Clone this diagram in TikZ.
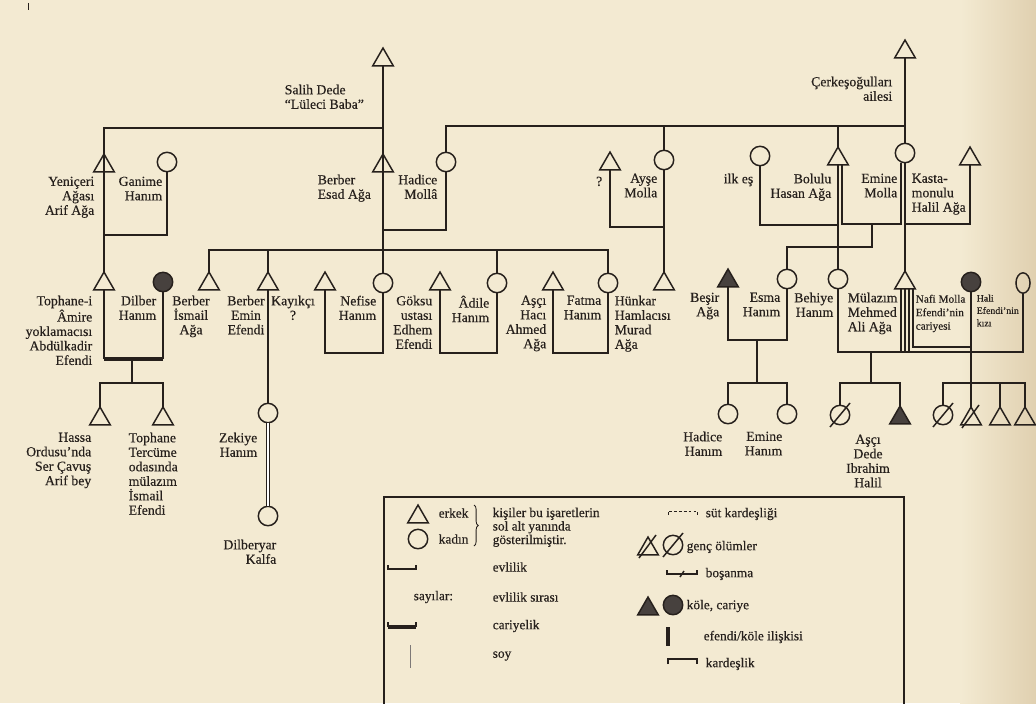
\documentclass[tikz,border=0pt]{standalone}
\usepackage{fontspec}
\setmainfont{Liberation Serif}[FakeBold=0.35]
\usetikzlibrary{shapes.geometric,calc,decorations.pathreplacing}
\definecolor{paper}{RGB}{243,234,210}
\definecolor{paperdark}{RGB}{224,208,176}
\definecolor{ink}{RGB}{38,32,28}

\begin{document}
\begin{tikzpicture}[x=0.025cm,y=-0.025cm,color=ink,line width=1.05pt,
  erkek/.style={regular polygon,regular polygon sides=3,draw,minimum size=17pt,inner sep=0pt,outer sep=0pt},
  kadin/.style={circle,draw,minimum size=13.8pt,inner sep=0pt,outer sep=0pt},
  kole/.style={fill=ink!85},
  lbl/.style={font=\fontsize{9.8}{10.3}\selectfont,inner sep=0pt,anchor=north east,align=right},
  lbll/.style={lbl,anchor=north west,align=left},
  lblc/.style={lbl,anchor=north,align=center},
  kucuk/.style={font=\fontsize{8}{9.6}\selectfont},
  leg/.style={font=\fontsize{9.5}{10}\selectfont,inner sep=0pt,anchor=west},
  cariyelik/.style={line width=2.3pt},
  efendi/.style={double,double distance=1.4pt,line width=0.8pt}]

\fill[paper] (0,0) rectangle (1036,703);
\shade[left color=paper,right color=paperdark,draw=none] (960,0) rectangle (1036,703);
\useasboundingbox (0,0) rectangle (1036,703);
\draw[line width=0.6pt] (28,3) -- (28,10);

% ust kusak
\node[erkek] (salih) at (383,60) {};
\node[erkek] (cerkes) at (905,52) {};
\node[lbll] (salih-t) at (284,84) {Salih Dede\\“Lüleci Baba”};
\node[lbl] (cerkes-t) at (893,76) {Çerkeşoğulları\\ailesi};

\node[erkek] (yeniceri) at (104,166) {};
\node[kadin] (ganime) at (167,162) {};
\node[erkek] (esad) at (383,166) {};
\node[kadin] (hadice) at (446,162) {};
\node[erkek] (soru) at (610,164) {};
\node[kadin] (ayse) at (664,160) {};
\node[kadin] (ilkes) at (760,156) {};
\node[erkek] (bolulu) at (838,159) {};
\node[kadin] (emine) at (905,153) {};
\node[erkek] (kasta) at (970,159) {};

\node[lbl] (yeniceri-t) at (95,176) {Yeniçeri\\Ağası\\Arif Ağa};
\node[lbl] (ganime-t) at (163,176) {Ganime\\Hanım};
\node[lbll] (esad-t) at (317,174) {Berber\\Esad Ağa};
\node[lbl] (hadice-t) at (438,174) {Hadice\\Mollâ};
\node[lbl] (soru-t) at (603,176) {?};
\node[lbl] (ayse-t) at (658,173) {Ayşe\\Molla};
\node[lbl] (ilkes-t) at (754,173) {ilk eş};
\node[lbl] (bolulu-t) at (832,173) {Bolulu\\Hasan Ağa};
\node[lbl] (emine-t) at (898,173) {Emine\\Molla};
\node[lbll] (kasta-t) at (911,173) {Kasta-\\monulu\\Halil Ağa};

% orta kusak
\node[erkek] (tophane) at (104,284) {};
\node[kadin,kole] (dilber) at (163,282) {};
\node[erkek] (ismail) at (209,284) {};
\node[erkek] (emin) at (268,284) {};
\node[erkek] (kayikci) at (325,284) {};
\node[kadin] (nefise) at (383,283) {};
\node[erkek] (goksu) at (440,284) {};
\node[kadin] (adile) at (497,283) {};
\node[erkek] (asci) at (553,284) {};
\node[kadin] (fatma) at (608,283) {};
\node[erkek] (hunkar) at (664,284) {};

\node[lbl] (tophane-t) at (93,295) {Tophane-i\\Âmire\\yoklamacısı\\Abdülkadir\\Efendi};
\node[lbl] (dilber-t) at (157,295) {Dilber\\Hanım};
\node[lblc] (ismail-t) at (191,295) {Berber\\İsmail\\Ağa};
\node[lblc] (emin-t) at (246,295) {Berber\\Emin\\Efendi};
\node[lblc] (kayikci-t) at (293,295) {Kayıkçı\\?};
\node[lbl] (nefise-t) at (377,295) {Nefise\\Hanım};
\node[lbl] (goksu-t) at (433,295) {Göksu\\ustası\\Edhem\\Efendi};
\node[lbl] (adile-t) at (490,295) {Âdile\\Hanım};
\node[lbl] (asci-t) at (547,295) {Aşçı\\Hacı\\Ahmed\\Ağa};
\node[lbl] (fatma-t) at (602,295) {Fatma\\Hanım};
\node[lbll] (hunkar-t) at (614,295) {Hünkar\\Hamlacısı\\Murad\\Ağa};

\node[erkek,kole] (besir) at (728,281) {};
\node[kadin] (esma) at (787,279) {};
\node[kadin] (behiye) at (838,279) {};
\node[erkek] (mulazim) at (905,283) {};
\node[kadin,kole] (nafi) at (971,282) {};
\node[ellipse,draw,minimum width=10pt,minimum height=14.5pt,inner sep=0pt,outer sep=0pt] (halikizi) at (1023,283) {};

\node[lbl] (besir-t) at (720,292) {Beşir\\Ağa};
\node[lbl] (esma-t) at (781,292) {Esma\\Hanım};
\node[lbl] (behiye-t) at (834,292) {Behiye\\Hanım};
\node[lbll] (mulazim-t) at (847,292) {Mülazım\\Mehmed\\Ali Ağa};
\node[lbll,kucuk] (nafi-t) at (915,294) {Nafi Molla\\Efendi’nin\\cariyesi};
\node[lbll,font=\fontsize{7}{8.8}\selectfont] (halikizi-t) at (976,294) {Hali\\Efendi’nin\\kızı};

% alt kusak
\node[erkek] (hassa) at (100,419) {};
\node[erkek] (tophane2) at (163,419) {};
\node[kadin] (zekiye) at (268,413) {};
\node[kadin] (dilberyar) at (268,516) {};
\node[kadin] (hadicek) at (728,414) {};
\node[kadin] (eminek) at (787,414) {};
\node[kadin] (olu1) at (840,415) {};
\node[erkek,kole] (ibrahim) at (900,418) {};
\node[kadin] (olu2) at (943,415) {};
\node[erkek] (olu3) at (971,419) {};
\node[erkek] (son1) at (1000,419) {};
\node[erkek] (son2) at (1025,419) {};

\node[lbl] (hassa-t) at (92,432) {Hassa\\Ordusu’nda\\Ser Çavuş\\Arif bey};
\node[lbll] (tophane2-t) at (128,432) {Tophane\\Tercüme\\odasında\\mülazım\\İsmail\\Efendi};
\node[lbl] (zekiye-t) at (258,432) {Zekiye\\Hanım};
\node[lbl] (dilberyar-t) at (277,539) {Dilberyar\\Kalfa};
\node[lbl] (hadicek-t) at (723,431) {Hadice\\Hanım};
\node[lbl] (eminek-t) at (783,431) {Emine\\Hanım};
\node[lblc] (ibrahim-t) at (868,434) {Aşçı\\Dede\\Ibrahim\\Halil};

\draw ($(olu1.center)+(-10,12)$) -- ($(olu1.center)+(10,-12)$);
\draw ($(olu2.center)+(-10,12)$) -- ($(olu2.center)+(10,-12)$);
\draw ($(olu3.center)+(-9,9)$) -- ($(olu3.center)+(8,-14)$);

% baglar
\coordinate (salihbar) at (383,128);
\coordinate (cerkesbar) at (905,126);
\draw (salih.south) -- (nefise.north);
\draw (salihbar) -| (tophane.north);
\draw (ganime.south) |- (tophane.north |- 0,235);
\draw (hadice.south) |- (esad.south |- 0,230);
\draw (ismail.north) |- (fatma.north |- 0,250) -- (fatma.north);
\draw (emin.north) -- (emin.north |- 0,250);
\draw (adile.north) -- (adile.north |- 0,250);

\draw (cerkes.south) -- (emine.north);
\draw (cerkesbar) -| (hadice.north);
\draw (ayse.north) -- (ayse.north |- cerkesbar);
\draw (bolulu.north) -- (bolulu.north |- cerkesbar);
\draw (soru.south) |- (ayse.south |- 0,227);
\draw (ayse.south) -- (hunkar.north);

\draw (ilkes.south) |- (bolulu.south |- 0,225);
\draw (bolulu.south) -- (behiye.north);
\coordinate (bolR) at ($(bolulu.south)+(4,0)$);
\coordinate (emiL) at ($(emine.south)+(-4,0)$);
\draw (bolR) |- (emiL |- 0,224) -- (emiL);
\coordinate (evlBE) at (872,224);
\draw (evlBE) -- ++(0,23) -| (esma.north);
\draw (emine.south) -- (mulazim.north);
\draw (kasta.south) |- (emine.south |- 0,224);

\draw (tophane.south) -- (tophane.south |- 0,359);
\draw (dilber.south) -- (dilber.south |- 0,359);
\draw[cariyelik] (tophane.south |- 0,359) -- (dilber.south |- 0,359);
\coordinate (evlTD) at (132,360);
\draw (evlTD) -- (evlTD |- 0,383);
\draw (hassa.north) |- (tophane2.north |- 0,383) -- (tophane2.north);

\draw (emin.south) -- (zekiye.north);
\draw[efendi] (zekiye.south) -- (dilberyar.north);

\draw (kayikci.south) |- (nefise.south |- 0,353) -- (nefise.south);
\draw (goksu.south) |- (adile.south |- 0,353) -- (adile.south);
\draw (asci.south) |- (fatma.south |- 0,353) -- (fatma.south);

\draw (besir.south) |- (esma.south |- 0,340) -- (esma.south);
\coordinate (evlBs) at (757,340);
\draw (evlBs) -- (evlBs |- 0,383);
\draw (hadicek.north) |- (eminek.north |- 0,383) -- (eminek.north);

\draw (behiye.south) |- (halikizi.south |- 0,352) -- (halikizi.south);
\coordinate (mulL) at ($(mulazim.south)+(-4,0)$);
\coordinate (mulR) at ($(mulazim.south)+(4,0)$);
\coordinate (mulRR) at ($(mulazim.south)+(8,0)$);
\draw (mulL) -- (mulL |- 0,352);
\draw (mulazim.south) -- (mulazim.south |- 0,352);
\draw (mulR) -- (mulR |- 0,352);
\draw (mulRR) |- (nafi.south |- 0,347);
\draw (nafi.south) -- (olu3.north);
\coordinate (evlBM) at (871,352);
\draw (evlBM) -- (evlBM |- 0,383);
\draw (olu1.north) |- (ibrahim.north |- 0,383) -- (ibrahim.north);
\draw (olu2.north) |- (son2.north |- 0,383) -- (son2.north);
\draw (son1.north) -- (son1.north |- 0,383);

% aciklama
\draw (384,710) -- (384,497) -- (904,497) -- (904,710);
\node[erkek] (lerkek) at (418,517) {};
\node[kadin] (lkadin) at (418,539) {};
\node[leg] (lerkek-t) at (438,513) {erkek};
\node[leg] (lkadin-t) at (438,539) {kadın};
\draw[line width=0.6pt,decorate,decoration={brace,amplitude=3pt}] (474,505) -- (474,546);
\node[lbll,font=\fontsize{9.5}{9.6}\selectfont] (kisiler-t) at (492,507) {kişiler bu işaretlerin\\sol alt yanında\\gösterilmiştir.};
\draw (388,565) -- (388,569) -- (416,569) -- (416,565);
\node[leg] (evlilik-t) at (492,567) {evlilik};
\node[leg] (sayilar-t) at (413,597) {sayılar:};
\node[leg] (sira-t) at (492,597) {evlilik sırası};
\draw[cariyelik] (388,627) -- (416,627);
\draw (388,622) -- (388,627) (416,622) -- (416,627);
\node[leg] (cariyelik-t) at (492,626) {cariyelik};
\draw[line width=0.5pt,ink!60] (410,645) -- (410,668);
\node[leg] (soy-t) at (492,656) {soy};

\draw[line width=0.6pt,dash pattern=on 2pt off 1.5pt] (668,515) -- (668,511) -- (697,511) -- (697,515);
\node[leg] (sut-t) at (705,514) {süt kardeşliği};
\node[erkek] (lolu1) at (648,549) {};
\node[kadin] (lolu2) at (673,545) {};
\draw ($(lolu1.center)+(-9,9)$) -- ($(lolu1.center)+(8,-14)$);
\draw ($(lolu2.center)+(-10,12)$) -- ($(lolu2.center)+(10,-12)$);
\node[leg] (genc-t) at (686,547) {genç ölümler};
\draw (667,570) -- (667,574) -- (697,574) -- (697,570);
\draw (680,577) -- (684,571);
\node[leg] (bosanma-t) at (705,574) {boşanma};
\node[erkek,kole] (lkole1) at (648,609) {};
\node[kadin,kole] (lkole2) at (673,605) {};
\node[leg] (kole-t) at (686,606) {köle, cariye};
\draw[line width=2.6pt] (668,627) -- (668,646);
\node[leg] (efendi-t) at (703,637) {efendi/köle ilişkisi};
\draw (668,664) -- (668,659) -- (697,659) -- (697,664);
\node[leg] (kardes-t) at (705,664) {kardeşlik};
\end{tikzpicture}
\end{document}
